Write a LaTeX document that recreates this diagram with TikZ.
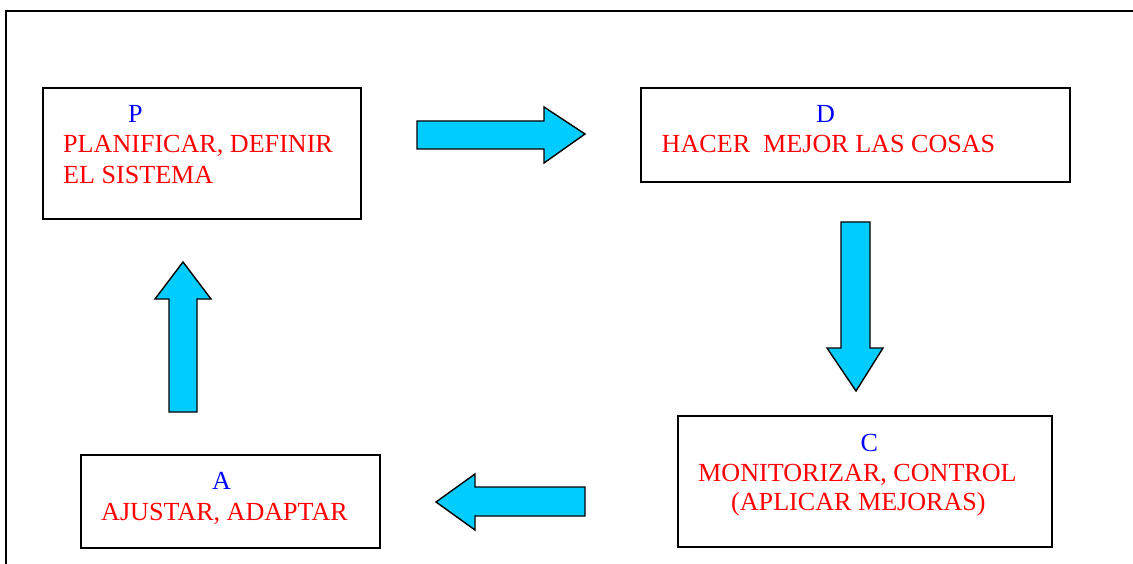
\documentclass[tikz,border=0pt]{standalone}
\usepackage{fontspec}
\setmainfont{Liberation Serif}
\definecolor{arrowcyan}{HTML}{00CCFF}
\definecolor{txtred}{HTML}{FF0000}
\definecolor{txtblue}{HTML}{0000FF}
\tikzset{
  box/.style={draw=black, line width=1.7pt, fill=white, rectangle, inner sep=0pt},
  blockarrow/.style={draw=black, line width=1.4pt, fill=arrowcyan, line join=miter},
  redtxt/.style={text=txtred, anchor=base west, inner sep=0pt, font=\fontsize{26.1pt}{31pt}\selectfont},
  bluetxt/.style={text=txtblue, anchor=base west, inner sep=0pt, font=\fontsize{26.1pt}{31pt}\selectfont},
  frameline/.style={draw=black, line width=1.8pt}
}
\begin{document}
\begin{tikzpicture}[x=1pt,y=-1pt]
\useasboundingbox (0,0) rectangle (1133,564);
% outer frame (only left and top edges visible)
\coordinate (fbl) at (6,566);
\coordinate (ftl) at (6,11);
\coordinate (ftr) at (1135,11);
\draw[frameline] (fbl) -- (ftl) -- (ftr);

% boxes
\node[box, minimum width=318pt, minimum height=131pt] (boxP) at (202,153.5) {};
\node[box, minimum width=429pt, minimum height=94pt] (boxD) at (855.5,135) {};
\node[box, minimum width=374pt, minimum height=131pt] (boxC) at (865,481.5) {};
\node[box, minimum width=299pt, minimum height=93pt] (boxA) at (230.5,501.5) {};

% texts
\node[bluetxt] (tP) at (128,123) {P};
\node[redtxt] (tP1) at (63,153) {PLANIFICAR, DEFINIR};
\node[redtxt] (tP2) at (63,184) {EL SISTEMA};

\node[bluetxt] (tD) at (816,122.5) {D};
\node[redtxt] (tD1) at (661.5,153) {HACER\ \ MEJOR LAS COSAS};

\node[bluetxt] (tC) at (860.5,451) {C};
\node[redtxt] (tC1) at (698,481) {MONITORIZAR, CONTROL};
\node[redtxt] (tC2) at (731,510) {(APLICAR MEJORAS)};

\node[bluetxt] (tA) at (212,489.5) {A};
\node[redtxt] (tA1) at (101,520) {AJUSTAR, ADAPTAR};

% block arrows
% P -> D (right)
\draw[blockarrow] (417,121) -- (544,121) -- (544,107) -- (585,134) -- (544,163) -- (544,149) -- (417,149) -- cycle;
% D -> C (down)
\draw[blockarrow] (841,222) -- (870,222) -- (870,348) -- (883,348) -- (856,391) -- (827,348) -- (841,348) -- cycle;
% C -> A (left)
\draw[blockarrow] (585,487) -- (475,487) -- (475,474) -- (436,502) -- (475,530) -- (475,516) -- (585,516) -- cycle;
% A -> P (up)
\draw[blockarrow] (169,412) -- (169,299) -- (155,299) -- (183,262) -- (211,299) -- (197,299) -- (197,412) -- cycle;
\end{tikzpicture}
\end{document}
